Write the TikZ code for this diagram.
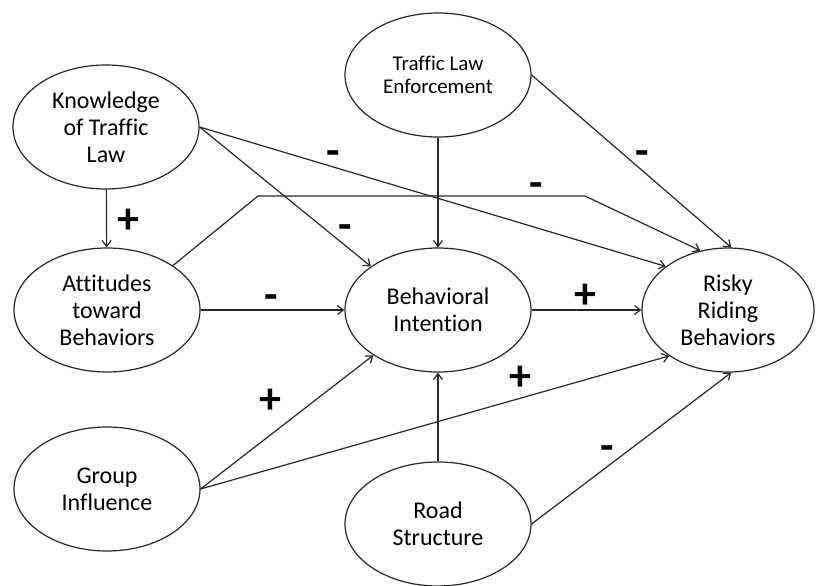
\documentclass[tikz,border=0pt]{standalone}
\usepackage{fontspec}
\setmainfont{Carlito}[Ligatures=NoCommon]
\usepackage{tikz}
\usetikzlibrary{shapes.geometric,arrows.meta}

\begin{document}
\begin{tikzpicture}[x=1pt,y=-1pt,
  construct/.style={draw=black!85, line width=1.2pt, ellipse, inner sep=0pt,
    minimum width=186pt, minimum height=124pt, align=center,
    font=\fontsize{24}{27}\selectfont},
  sign/.style={inner sep=0pt, font=\bfseries\fontsize{44}{44}\selectfont},
  plus/.style={sign, yshift=-3pt},
  minus/.style={sign, yshift=-8pt},
  link/.style={draw=black!85, line width=1.2pt, -{Straight Barb[length=6pt,width=9pt]}}]
\useasboundingbox (0,0) rectangle (817,586);
\node [construct] (kn) at (106,127) {Knowledge\\of Traffic\\Law};
\node [construct, font=\fontsize{21}{23}\selectfont] (tle) at (438,75) {Traffic Law\\Enforcement};
\node [construct] (att) at (107,310) {Attitudes\\toward\\Behaviors};
\node [construct] (bi) at (438,310) {Behavioral\\Intention};
\node [construct, minimum width=172pt] (rrb) at (728,310) {Risky\\Riding\\Behaviors};
\node [construct] (gi) at (107,489) {Group\\Influence};
\node [construct] (rs) at (438,524) {Road\\Structure};
\coordinate (bendA) at (258,196);
\coordinate (bendB) at (585,196);
\draw [link] (kn) -- (att);
\draw [link] (kn.east) -- (bi.147);
\draw [link] (kn.east) -- (rrb.145);
\draw [link] (att.34) -- (bendA) -- (bendB) -- (rrb.115);
\draw [link] (tle) -- (bi);
\draw [link] (tle.east) -- (rrb.87);
\draw [link] (att) -- (bi);
\draw [link] (bi) -- (rrb);
\draw [link] (gi.east) -- (bi.215);
\draw [link] (gi.east) -- (rrb.218);
\draw [link] (rs) -- (bi);
\draw [link] (rs.east) -- (rrb.-87);
\node [plus] (sKA) at (128,218) {+};
\node [minus] (sKB) at (345,224) {-};
\node [minus] (sKR) at (333,150) {-};
\node [minus] (sAR) at (536,182) {-};
\node [minus] (sTR) at (642,150) {-};
\node [minus] (sAB) at (271,294) {-};
\node [plus] (sBR) at (585,293) {+};
\node [plus] (sGB) at (270,398) {+};
\node [plus] (sGR) at (520,375) {+};
\node [minus] (sSR) at (607,445) {-};
\end{tikzpicture}
\end{document}
